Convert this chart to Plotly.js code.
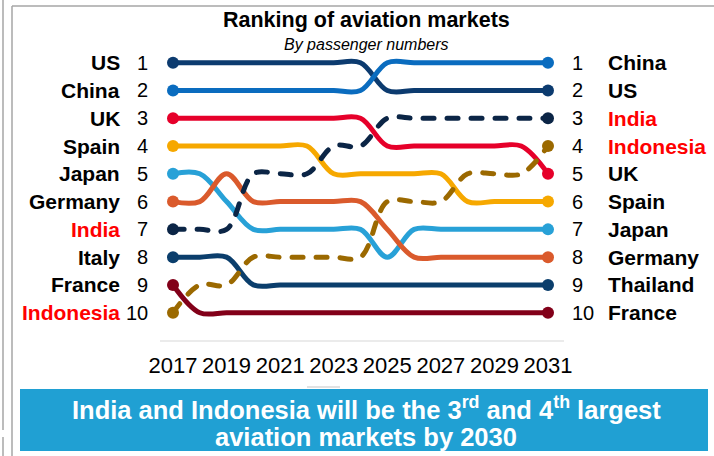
<!DOCTYPE html>
<html>
<head>
<meta charset="utf-8">
<script src="https://cdn.plot.ly/plotly-3.0.1.min.js"></script>
<style>
html,body{margin:0;padding:0;background:#fff;}
#chart{width:714px;height:456px;}
.scatterlayer .js-line{stroke-linecap:round;}
</style>
</head>
<body>
<div id="chart"></div>
<script>
// ---------- data ----------
const years = [2017,2018,2019,2020,2021,2022,2023,2024,2025,2026,2027,2028,2029,2030,2031];
const tickYears = [2017,2019,2021,2023,2025,2027,2029,2031];

const rankUS        = [1,1,1,1,1,1,1,1,2,2,2,2,2,2,2];
const rankChina     = [2,2,2,2,2,2,2,2,1,1,1,1,1,1,1];
const rankUK        = [3,3,3,3,3,3,3,3,4,4,4,4,4,4,5];
const rankSpain     = [4,4,4,4,4,4,5,5,5,5,5,6,6,6,6];
const rankJapan     = [5,5,6,7,7,7,7,7,8,7,7,7,7,7,7];
const rankGermany   = [6,6,5,6,6,6,6,6,7,8,8,8,8,8,8];
const rankIndia     = [7,7,7,5,5,5,4,4,3,3,3,3,3,3,3];
const rankItaly     = [8,8,8,9,9,9,9,9,9,9,9,9,9,9,9];
const rankFrance    = [9,10,10,10,10,10,10,10,10,10,10,10,10,10,10];
const rankIndonesia = [10,9,9,8,8,8,8,8,6,6,6,5,5,5,4];

const rankNumbers = ['1','2','3','4','5','6','7','8','9','10'];
const leftNames   = ['US','China','UK','Spain','Japan','Germany','India','Italy','France','Indonesia'];
const rightNames  = ['China','US','India','Indonesia','UK','Spain','Japan','Germany','Thailand','France'];
const highlighted = ['India','Indonesia'];

const titleText    = 'Ranking of aviation markets';
const subtitleText = 'By passenger numbers';
const calloutLine1 = 'India and Indonesia will be the 3<sup>rd</sup> and 4<sup>th</sup> largest';
const calloutLine2 = 'aviation markets by 2030';

// ---------- layout geometry ----------
const W = 714, H = 456;
const L = 162, R = 155, T = 46, B = 106;
const PW = W - L - R, PH = H - T - B;
const X0PX = 173, X1PX = 548;           // pixel positions of first / last year
const Y1PX = 62.7, Y10PX = 312.7;       // pixel positions of rank 1 / rank 10
const pxPerYear = (X1PX - X0PX) / (years[years.length-1] - years[0]);
const pxPerRank = (Y10PX - Y1PX) / 9;
const xRange = [years[0] - (X0PX - L) / pxPerYear, years[years.length-1] + (L + PW - X1PX) / pxPerYear];
const yRange = [10 + (T + PH - Y10PX) / pxPerRank, 1 - (Y1PX - T) / pxPerRank];
const px = v => (v - L) / PW;
const py = v => 1 - (v - T) / PH;

const FONT = 'Liberation Sans, Arial, sans-serif';

const series = [
  {name:'US',        y:rankUS,        color:'#0c3b6f', dash:'solid'},
  {name:'China',     y:rankChina,     color:'#0a6cbf', dash:'solid'},
  {name:'UK',        y:rankUK,        color:'#e6002a', dash:'solid'},
  {name:'Spain',     y:rankSpain,     color:'#f6a800', dash:'solid'},
  {name:'Japan',     y:rankJapan,     color:'#28a1d7', dash:'solid'},
  {name:'Germany',   y:rankGermany,   color:'#da5a2c', dash:'solid'},
  {name:'Italy',     y:rankItaly,     color:'#0b3e6c', dash:'solid'},
  {name:'France',    y:rankFrance,    color:'#820019', dash:'solid'},
  {name:'Indonesia', y:rankIndonesia, color:'#9b6900', dash:'11px,13px'},
  {name:'India',     y:rankIndia,     color:'#0b2546', dash:'11px,13px'}
];

const n = years.length;
const traces = [];
series.forEach(s => {
  traces.push({
    type:'scatter', mode:'lines', name:s.name,
    x: years, y: s.y,
    line:{color:s.color, width:5, shape:'spline', smoothing:1, dash:s.dash},
    cliponaxis:false, hoverinfo:'skip', showlegend:false
  });
});
series.forEach(s => {
  traces.push({
    type:'scatter', mode:'markers', name:s.name + ' ends',
    x: [years[0], years[n-1]], y: [s.y[0], s.y[n-1]],
    marker:{color:s.color, size:12, opacity:1, line:{width:0}},
    cliponaxis:false, hoverinfo:'skip', showlegend:false
  });
});

const annotations = [];
const nameFont = nm => ({family:FONT, size:21, color: highlighted.includes(nm) ? '#ff0000' : '#000000'});
rankNumbers.forEach((num, i) => {
  const r = i + 1;
  annotations.push({xref:'paper', yref:'y', x:px(150), y:r, text:num, showarrow:false, xanchor:'right', yanchor:'middle',
    font:{family:FONT, size:20, color:'#000'}});
  annotations.push({xref:'paper', yref:'y', x:px(570), y:r, text:num, showarrow:false, xanchor:'left', yanchor:'middle',
    font:{family:FONT, size:20, color:'#000'}});
});
leftNames.forEach((nm, i) => {
  annotations.push({xref:'paper', yref:'y', x:px(122), y:i+1, text:'<b>'+nm+'</b>', showarrow:false, xanchor:'right', yanchor:'middle',
    font:nameFont(nm)});
});
rightNames.forEach((nm, i) => {
  annotations.push({xref:'paper', yref:'y', x:px(606), y:i+1, text:'<b>'+nm+'</b>', showarrow:false, xanchor:'left', yanchor:'middle',
    font:nameFont(nm)});
});
annotations.push({xref:'paper', yref:'paper', x:px(366), y:py(20), text:'<b>'+titleText+'</b>', showarrow:false,
  xanchor:'center', yanchor:'middle', font:{family:FONT, size:21.5, color:'#000'}});
annotations.push({xref:'paper', yref:'paper', x:px(366), y:py(44), text:'<i>'+subtitleText+'</i>', showarrow:false,
  xanchor:'center', yanchor:'middle', font:{family:FONT, size:16, color:'#000'}});
annotations.push({xref:'paper', yref:'paper', x:px(366), y:py(408), text:'<b>'+calloutLine1+'</b>', showarrow:false,
  xanchor:'center', yanchor:'middle', align:'center', font:{family:FONT, size:25.5, color:'#ffffff'}});
annotations.push({xref:'paper', yref:'paper', x:px(366), y:py(437), text:'<b>'+calloutLine2+'</b>', showarrow:false,
  xanchor:'center', yanchor:'middle', align:'center', font:{family:FONT, size:25.5, color:'#ffffff'}});

const grey = '#a6a6a6';
const shapes = [
  {type:'rect', xref:'paper', yref:'paper', x0:px(20), x1:px(708), y0:py(389), y1:py(451), fillcolor:'#20a0d3', line:{width:0}, layer:'below'},
  {type:'line', xref:'paper', yref:'paper', x0:px(3), x1:px(3), y0:py(0), y1:py(430), line:{color:grey, width:1.5}},
  {type:'line', xref:'paper', yref:'paper', x0:px(3), x1:px(3), y0:py(437), y1:py(456), line:{color:grey, width:1.5}},
  {type:'line', xref:'paper', yref:'paper', x0:px(12), x1:px(12), y0:py(6), y1:py(456), line:{color:grey, width:1.5}},
  {type:'line', xref:'paper', yref:'paper', x0:px(12), x1:px(714), y0:py(6), y1:py(6), line:{color:grey, width:1.5}},
  {type:'line', xref:'paper', yref:'paper', x0:px(160), x1:px(564), y0:py(341), y1:py(341), line:{color:'#e4e4e4', width:1.5}},
  {type:'line', xref:'paper', yref:'paper', x0:px(307), x1:px(340), y0:py(387), y1:py(387), line:{color:'#d8d8d8', width:1.5}}
];

const layout = {
  width:W, height:H,
  margin:{l:L, r:R, t:T, b:B, pad:0},
  paper_bgcolor:'#ffffff', plot_bgcolor:'#ffffff',
  showlegend:false,
  xaxis:{range:xRange, tickvals:tickYears, ticktext:tickYears.map(String), showgrid:false, zeroline:false, showline:false,
    ticks:'', tickfont:{family:FONT, size:22, color:'#000'}, fixedrange:true},
  yaxis:{range:yRange, showgrid:false, zeroline:false, showline:false, showticklabels:false, ticks:'', fixedrange:true},
  annotations:annotations,
  shapes:shapes
};

Plotly.newPlot('chart', traces, layout, {displayModeBar:false, staticPlot:true});
</script>
</body>
</html>
